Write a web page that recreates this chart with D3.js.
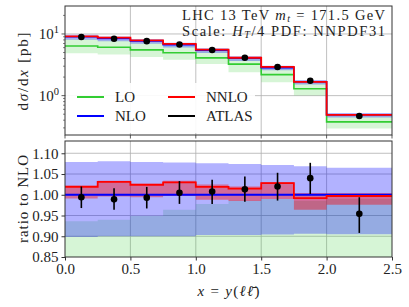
<!DOCTYPE html>
<html>
<head>
<meta charset="utf-8">
<script src="https://cdn.jsdelivr.net/npm/d3@7"></script>
<style>
  body { margin: 0; background: #fff; }
  text { font-family: "Liberation Serif", "DejaVu Serif", serif; fill: #222; }
</style>
</head>
<body>
<div id="chart"></div>
<script>
// bins in x = y(ll~)
var binEdges = [0, 0.25, 0.5, 0.75, 1.0, 1.25, 1.5, 1.75, 2.0, 2.5]
var binCenters = [0.125, 0.375, 0.625, 0.875, 1.125, 1.375, 1.625, 1.875, 2.25]

// NLO central prediction [pb]
var nloCentral = [9.0, 8.45, 7.7, 6.7, 5.45, 4.05, 2.85, 1.68, 0.49]

// everything else as ratio to NLO
var nloBandLow  = [0.898, 0.900, 0.900, 0.900, 0.903, 0.903, 0.904, 0.906, 0.905]
var nloBandHigh = [1.079, 1.081, 1.079, 1.078, 1.076, 1.074, 1.072, 1.069, 1.065]

var loRatio    = [0.71, 0.72, 0.716, 0.74, 0.75, 0.80, 0.77, 0.77, 0.765]
var loBandLow  = [0.54, 0.55, 0.55, 0.57, 0.60, 0.59, 0.58, 0.60, 0.60]
var loBandHigh = [0.936, 0.940, 0.949, 0.964, 0.978, 0.986, 0.990, 0.985, 0.990]

var nnloRatio    = [1.019, 1.031, 1.024, 1.030, 1.019, 1.015, 1.028, 0.992, 0.997]
var nnloBandLow  = [0.991, 0.996, 0.994, 0.997, 0.988, 0.985, 0.990, 0.964, 0.976]
var nnloBandHigh = [1.023, 1.034, 1.028, 1.034, 1.025, 1.020, 1.031, 1.004, 1.004]

var atlasRatio   = [0.994, 0.989, 0.993, 1.005, 1.008, 1.013, 1.020, 1.040, 0.954]
var atlasErrLow  = [0.968, 0.964, 0.967, 0.978, 0.978, 0.983, 0.986, 1.002, 0.908]
var atlasErrHigh = [1.020, 1.016, 1.019, 1.033, 1.036, 1.044, 1.053, 1.077, 0.994]

var xTicks = [0, 0.5, 1.0, 1.5, 2.0, 2.5]
var ratioTicks = [0.85, 0.90, 0.95, 1.00, 1.05, 1.10]

var colors = {
    lo: '#32cd32',
    nlo: '#0000ff',
    nnlo: '#ff0000',
    data: '#000',
    grid: '#b0b0b0',
    axis: '#333'
}

var W = 409, H = 307,
    left = 65, right = 392,
    top1 = 6, bot1 = 135,
    top2 = 141, bot2 = 257

var svg = d3.select('#chart').append('svg')
    .attr('width', W).attr('height', H)
    .attr('viewBox', '0 0 ' + W + ' ' + H)

var x = d3.scaleLinear().domain([0, 2.5]).range([left, right])
var yTop = d3.scaleLog().domain([0.23, 28.4]).range([bot1, top1])
var yRat = d3.scaleLinear().domain([0.85, 1.1296]).range([bot2, top2])

var defs = svg.append('defs')
defs.append('clipPath').attr('id', 'clipTop').append('rect')
    .attr('x', left).attr('y', top1).attr('width', right - left).attr('height', bot1 - top1)
defs.append('clipPath').attr('id', 'clipRat').append('rect')
    .attr('x', left).attr('y', top2).attr('width', right - left).attr('height', bot2 - top2)

// helpers: step curves over the bins
function stepPoints(vals) {
    var pts = vals.map(function(v, i) { return [binEdges[i], v] })
    pts.push([binEdges[binEdges.length - 1], vals[vals.length - 1]])
    return pts
}
function stepLine(y) {
    return d3.line().x(function(d) { return x(d[0]) }).y(function(d) { return y(d[1]) })
        .curve(d3.curveStepAfter)
}
function stepArea(y) {
    return d3.area().x(function(d) { return x(d[0]) })
        .y0(function(d) { return y(d[1]) }).y1(function(d) { return y(d[2]) })
        .curve(d3.curveStepAfter)
}
function bandPoints(lo, hi, scaleBy) {
    var pts = lo.map(function(v, i) { return [binEdges[i], v * scaleBy[i], hi[i] * scaleBy[i]] })
    var n = lo.length - 1
    pts.push([binEdges[n + 1], lo[n] * scaleBy[n], hi[n] * scaleBy[n]])
    return pts
}
function times(a, b) { return a.map(function(v, i) { return v * b[i] }) }
var ones = nloCentral.map(function() { return 1 })

// ---------- grids ----------
function grid(g, yScale, yVals, y0, y1) {
    g.selectAll('.vg').data(xTicks.slice(1, -1)).enter().append('line')
        .attr('class', 'vg')
        .attr('x1', function(d) { return x(d) }).attr('x2', function(d) { return x(d) })
        .attr('y1', y0).attr('y2', y1)
        .attr('stroke', colors.grid).attr('stroke-width', 0.8)
    g.selectAll('.hg').data(yVals).enter().append('line')
        .attr('class', 'hg')
        .attr('x1', left).attr('x2', right)
        .attr('y1', function(d) { return yScale(d) }).attr('y2', function(d) { return yScale(d) })
        .attr('stroke', colors.grid).attr('stroke-width', 0.8)
}

var gTop = svg.append('g')
var gRat = svg.append('g')

grid(gTop, yTop, [1, 10], top1, bot1)
grid(gRat, yRat, ratioTicks.slice(1), top2, bot2)

// ---------- top panel ----------
var cTop = gTop.append('g').attr('clip-path', 'url(#clipTop)')

cTop.append('path').datum(bandPoints(loBandLow, loBandHigh, nloCentral))
    .attr('d', stepArea(yTop)).attr('fill', colors.lo).attr('fill-opacity', 0.2)
cTop.append('path').datum(bandPoints(nloBandLow, nloBandHigh, nloCentral))
    .attr('d', stepArea(yTop)).attr('fill', colors.nlo).attr('fill-opacity', 0.3)
cTop.append('path').datum(bandPoints(nnloBandLow, nnloBandHigh, nloCentral))
    .attr('d', stepArea(yTop)).attr('fill', colors.nnlo).attr('fill-opacity', 0.4)

cTop.append('path').datum(stepPoints(times(loRatio, nloCentral)))
    .attr('d', stepLine(yTop)).attr('fill', 'none').attr('stroke', colors.lo).attr('stroke-width', 1.6)
cTop.append('path').datum(stepPoints(nloCentral))
    .attr('d', stepLine(yTop)).attr('fill', 'none').attr('stroke', colors.nlo).attr('stroke-width', 1.6)
cTop.append('path').datum(stepPoints(times(nnloRatio, nloCentral)))
    .attr('d', stepLine(yTop)).attr('fill', 'none').attr('stroke', colors.nnlo).attr('stroke-width', 1.8)

cTop.selectAll('.eb').data(binCenters).enter().append('line')
    .attr('x1', function(d) { return x(d) }).attr('x2', function(d) { return x(d) })
    .attr('y1', function(d, i) { return yTop(atlasErrLow[i] * nloCentral[i]) })
    .attr('y2', function(d, i) { return yTop(atlasErrHigh[i] * nloCentral[i]) })
    .attr('stroke', colors.data).attr('stroke-width', 1.5)
cTop.selectAll('.pt').data(binCenters).enter().append('circle')
    .attr('cx', function(d) { return x(d) })
    .attr('cy', function(d, i) { return yTop(atlasRatio[i] * nloCentral[i]) })
    .attr('r', 3.3).attr('fill', colors.data)

// legend (opaque box over grid)
var leg = gTop.append('g')
leg.append('rect').attr('x', left + 1).attr('y', 83).attr('width', 189).attr('height', 50)
    .attr('fill', '#fff').attr('fill-opacity', 0.9)
var legItems = [
    {label: 'LO', color: colors.lo, lx: 77, ly: 97},
    {label: 'NLO', color: colors.nlo, lx: 77, ly: 116},
    {label: 'NNLO', color: colors.nnlo, lx: 168, ly: 97},
    {label: 'ATLAS', color: colors.data, lx: 168, ly: 116}
]
legItems.forEach(function(it) {
    leg.append('line').attr('x1', it.lx).attr('x2', it.lx + 27)
        .attr('y1', it.ly).attr('y2', it.ly)
        .attr('stroke', it.color).attr('stroke-width', 2)
    leg.append('text').attr('x', it.lx + 38).attr('y', it.ly + 5)
        .attr('font-size', 15).text(it.label)
})

// annotation, stretched to the reference's width
var ann = gTop.append('text').attr('x', 182).attr('y', 20).attr('font-size', 14.5)
    .attr('textLength', 203).attr('lengthAdjust', 'spacing')
ann.append('tspan').text('LHC 13 TeV ')
ann.append('tspan').attr('font-style', 'italic').text('m')
ann.append('tspan').attr('font-size', 10).attr('font-style', 'italic').attr('dy', 2).text('t')
ann.append('tspan').attr('dy', -2).text(' = 171.5 GeV')
var ann2 = gTop.append('text').attr('x', 182).attr('y', 35.5).attr('font-size', 14.5)
    .attr('textLength', 203).attr('lengthAdjust', 'spacing')
ann2.append('tspan').text('Scale: ')
ann2.append('tspan').attr('font-style', 'italic').text('H')
ann2.append('tspan').attr('font-size', 10).attr('font-style', 'italic').attr('dy', 2).text('T')
ann2.append('tspan').attr('dy', -2).text('/4 PDF: NNPDF31')

// top axes
gTop.append('rect').attr('x', left).attr('y', top1).attr('width', right - left).attr('height', bot1 - top1)
    .attr('fill', 'none').attr('stroke', colors.axis).attr('stroke-width', 1)

var minorTop = [0.3, 0.4, 0.5, 0.6, 0.7, 0.8, 0.9, 2, 3, 4, 5, 6, 7, 8, 9, 20]
gTop.selectAll('.mt').data(minorTop).enter().append('line')
    .attr('x1', left - 2).attr('x2', left)
    .attr('y1', function(d) { return yTop(d) }).attr('y2', function(d) { return yTop(d) })
    .attr('stroke', colors.axis).attr('stroke-width', 0.6)
gTop.selectAll('.Mt').data([1, 10]).enter().append('line')
    .attr('x1', left - 3.5).attr('x2', left)
    .attr('y1', function(d) { return yTop(d) }).attr('y2', function(d) { return yTop(d) })
    .attr('stroke', colors.axis).attr('stroke-width', 0.8)
;[[1, '0'], [10, '1']].forEach(function(t) {
    var tx = gTop.append('text').attr('x', left - 6).attr('y', yTop(t[0]) + 5)
        .attr('text-anchor', 'end').attr('font-size', 15)
    tx.append('tspan').text('10')
    tx.append('tspan').attr('font-size', 10.5).attr('dy', -6).text(t[1])
})
gTop.selectAll('.xt').data(xTicks).enter().append('line')
    .attr('x1', function(d) { return x(d) }).attr('x2', function(d) { return x(d) })
    .attr('y1', bot1).attr('y2', bot1 + 3.5)
    .attr('stroke', colors.axis).attr('stroke-width', 0.8)

var yl = gTop.append('text').attr('transform', 'translate(28,' + ((top1 + bot1) / 2 + 1) + ') rotate(-90)')
    .attr('text-anchor', 'middle').attr('font-size', 15)
    .attr('textLength', 78).attr('lengthAdjust', 'spacing')
yl.append('tspan').text('d')
yl.append('tspan').attr('font-style', 'italic').text('σ')
yl.append('tspan').text('/d')
yl.append('tspan').attr('font-style', 'italic').text('x')
yl.append('tspan').text(' [pb]')

// ---------- ratio panel ----------
var cRat = gRat.append('g').attr('clip-path', 'url(#clipRat)')

cRat.append('path').datum(bandPoints(loBandLow, loBandHigh, ones))
    .attr('d', stepArea(yRat)).attr('fill', colors.lo).attr('fill-opacity', 0.2)
cRat.append('path').datum(bandPoints(nloBandLow, nloBandHigh, ones))
    .attr('d', stepArea(yRat)).attr('fill', colors.nlo).attr('fill-opacity', 0.3)
cRat.append('path').datum(bandPoints(nnloBandLow, nnloBandHigh, ones))
    .attr('d', stepArea(yRat)).attr('fill', colors.nnlo).attr('fill-opacity', 0.4)

cRat.append('path').datum(stepPoints(loRatio))
    .attr('d', stepLine(yRat)).attr('fill', 'none').attr('stroke', colors.lo).attr('stroke-width', 1.6)
cRat.append('path').datum(stepPoints(ones))
    .attr('d', stepLine(yRat)).attr('fill', 'none').attr('stroke', colors.nlo).attr('stroke-width', 2)
cRat.append('path').datum(stepPoints(nnloRatio))
    .attr('d', stepLine(yRat)).attr('fill', 'none').attr('stroke', colors.nnlo).attr('stroke-width', 1.8)

cRat.selectAll('.eb').data(binCenters).enter().append('line')
    .attr('x1', function(d) { return x(d) }).attr('x2', function(d) { return x(d) })
    .attr('y1', function(d, i) { return yRat(atlasErrLow[i]) })
    .attr('y2', function(d, i) { return yRat(atlasErrHigh[i]) })
    .attr('stroke', colors.data).attr('stroke-width', 1.6)
cRat.selectAll('.pt').data(binCenters).enter().append('circle')
    .attr('cx', function(d) { return x(d) })
    .attr('cy', function(d, i) { return yRat(atlasRatio[i]) })
    .attr('r', 3.3).attr('fill', colors.data)

gRat.append('rect').attr('x', left).attr('y', top2).attr('width', right - left).attr('height', bot2 - top2)
    .attr('fill', 'none').attr('stroke', colors.axis).attr('stroke-width', 1)

gRat.append('g').attr('transform', 'translate(' + left + ',0)')
    .call(d3.axisLeft(yRat).tickValues(ratioTicks).tickFormat(d3.format('.2f')).tickSize(3.5).tickPadding(3))
    .call(function(g) {
        g.select('.domain').remove()
        g.selectAll('line').attr('stroke', colors.axis)
        g.selectAll('text').attr('font-size', 15).attr('font-family', '"Liberation Serif", serif').attr('fill', '#222')
    })
gRat.append('g').attr('transform', 'translate(0,' + bot2 + ')')
    .call(d3.axisBottom(x).tickValues(xTicks).tickFormat(d3.format('.1f')).tickSize(3.5).tickPadding(3))
    .call(function(g) {
        g.select('.domain').remove()
        g.selectAll('line').attr('stroke', colors.axis)
        g.selectAll('text').attr('font-size', 15).attr('font-family', '"Liberation Serif", serif').attr('fill', '#222')
    })

gRat.append('text').attr('transform', 'translate(28,' + ((top2 + bot2) / 2) + ') rotate(-90)')
    .attr('text-anchor', 'middle').attr('font-size', 15)
    .attr('textLength', 88).attr('lengthAdjust', 'spacing')
    .text('ratio to NLO')

var xl = svg.append('text').attr('x', (left + right) / 2).attr('y', 296)
    .attr('text-anchor', 'middle').attr('font-size', 15)
    .attr('textLength', 62).attr('lengthAdjust', 'spacing')
xl.append('tspan').attr('font-style', 'italic').text('x')
xl.append('tspan').text(' = ')
xl.append('tspan').attr('font-style', 'italic').text('y')
xl.append('tspan').text('(')
xl.append('tspan').attr('font-style', 'italic').text('ℓℓ\u0304')
xl.append('tspan').text(')')
</script>
</body>
</html>
